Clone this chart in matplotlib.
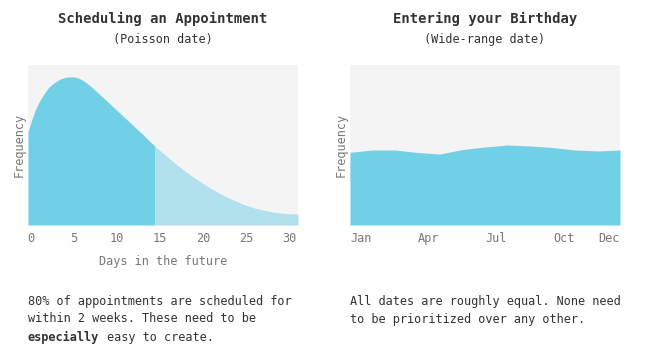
import numpy as np
import matplotlib
matplotlib.use("Agg")
from matplotlib import pyplot as plt

plt.rcParams['font.family'] = ['DejaVu Sans Mono']

# appointment curve (days in the future vs frequency)
days = [-0.35, 0, 0.5, 1, 1.5, 2, 2.5, 3, 3.5, 4, 4.5, 5, 5.5, 6, 6.5, 7, 8,
        9, 10, 11, 12, 13, 14, 14.4, 15, 16, 17, 18, 19, 20, 21, 22, 23, 24,
        25, 26, 27, 28, 29, 30, 31.05]
appt = [93, 103, 115, 124, 131, 137, 141, 144, 146.3, 147.6, 148.2, 148.1,
        147, 144.8, 141.8, 138.3, 130.5, 122.5, 114.5, 106.5, 98.5, 90.5, 82,
        79, 74.5, 67, 60, 53.3, 47.2, 41.5, 36.2, 31.3, 27, 23.2, 19.8, 17,
        14.9, 13.2, 12, 11.3, 11]
split_day = 14.4
day_ticks = [0, 5, 10, 15, 20, 25, 30]

# birthday curve (month index vs frequency)
months = [0, 1, 2, 3, 4, 5, 6, 7, 8, 9, 10, 11, 12]
bday = [72.7, 75, 75, 72.5, 71, 75.5, 78, 80, 79, 77.5, 75, 74, 75]
month_ticks = [0.5, 3.5, 6.5, 9.5, 11.5]
month_labels = ['Jan', 'Apr', 'Jul', 'Oct', 'Dec']

DARK = '#70d0e6'
LIGHT = '#b1e1ed'
BG = '#f4f4f4'
TXT = '#333333'
GREY = '#777777'

W, H = 648, 356
fig = plt.figure(figsize=(W / 100, H / 100), dpi=100)


def px(x, y):
    return x / W, 1 - y / H


def make_axes(x0):
    ax = fig.add_axes([x0 / W, (H - 225) / H, 270 / W, 160 / H])
    ax.set_facecolor(BG)
    for s in ax.spines.values():
        s.set_visible(False)
    ax.set_yticks([])
    ax.set_ylim(0, 160)
    ax.tick_params(axis='x', length=0, pad=5, labelsize=8.6, labelcolor=GREY)
    return ax


# left chart
ax1 = make_axes(28)
d = np.array(days)
a = np.array(appt)
k = days.index(split_day)
ax1.fill_between(d[:k + 1], a[:k + 1], color=DARK, lw=0)
ax1.fill_between(d[k:], a[k:], color=LIGHT, lw=0)
ax1.set_xlim(days[0], days[-1])
ax1.set_xticks(day_ticks)
ax1.set_xlabel('Days in the future', fontsize=8.6, color=GREY, labelpad=7)

# right chart
ax2 = make_axes(350)
ax2.fill_between(months, bday, color=DARK, lw=0)
ax2.set_xlim(0, 12)
ax2.set_xticks(month_ticks)
ax2.set_xticklabels(month_labels)

# titles
for cx, title, sub in [(163, 'Scheduling an Appointment', '(Poisson date)'),
                       (485, 'Entering your Birthday', '(Wide-range date)')]:
    fig.text(*px(cx, 19), title, ha='center', va='center', fontsize=10,
             fontweight='bold', color=TXT)
    fig.text(*px(cx, 40), sub, ha='center', va='center', fontsize=8.5,
             color=TXT)

for lx in (19, 341):
    fig.text(*px(lx, 145), 'Frequency', rotation=90, ha='center',
             va='center', fontsize=8.6, color=GREY)

# captions
fs = 8.6
char_px = 0.602 * fs * 100 / 72
fig.text(*px(28, 301), '80% of appointments are scheduled for',
         va='center', fontsize=fs, color=TXT)
fig.text(*px(28, 319), 'within 2 weeks. These need to be',
         va='center', fontsize=fs, color=TXT)
fig.text(*px(28, 337), 'especially', va='center', fontsize=fs,
         fontweight='bold', color=TXT)
fig.text(*px(28 + 11 * char_px, 337), 'easy to create.', va='center',
         fontsize=fs, color=TXT)
fig.text(*px(350, 301), 'All dates are roughly equal. None need',
         va='center', fontsize=fs, color=TXT)
fig.text(*px(350, 319), 'to be prioritized over any other.',
         va='center', fontsize=fs, color=TXT)

fig.savefig('out.png', dpi=100, facecolor='white')
